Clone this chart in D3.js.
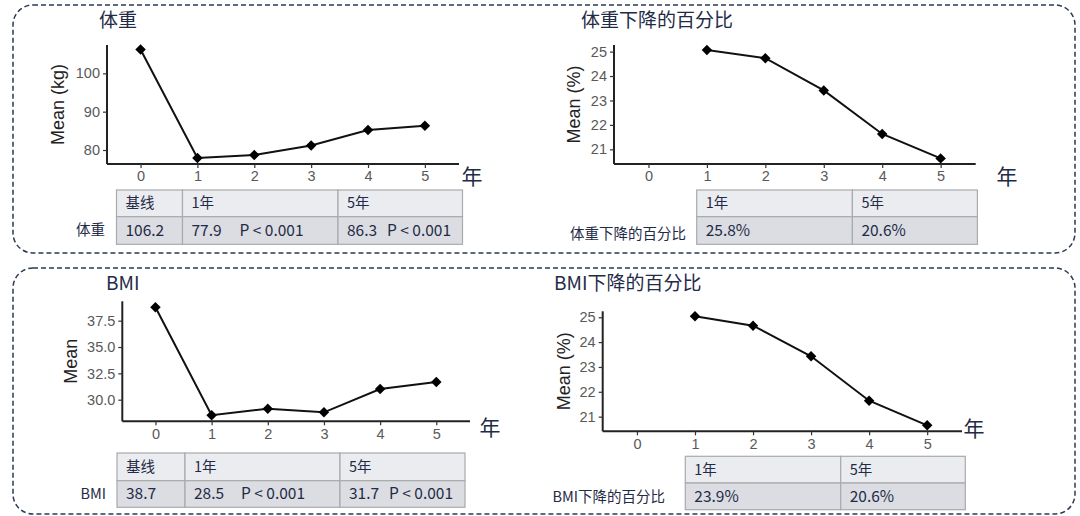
<!DOCTYPE html>
<html>
<head>
<meta charset="utf-8">
<script src="https://cdn.jsdelivr.net/npm/d3@7"></script>
<style>
  body { margin: 0; background: #fff; }
  svg { display: block; }
  .tick text { font-family: 'Liberation Sans', Arial, sans-serif; font-size: 14.5px; fill: #595959; }
  .cjk { font-family: 'Noto Sans CJK SC', sans-serif; }
</style>
</head>
<body>
<div id="chart"></div>
<script>
// data
const years = [0, 1, 2, 3, 4, 5];
const pctYears = [1, 2, 3, 4, 5];
const weightMean = [106.2, 77.9, 78.7, 81.2, 85.2, 86.3];
const weightDrop = [25.07, 24.73, 23.41, 21.63, 20.63];
const bmiMean = [38.77, 28.52, 29.15, 28.8, 31.02, 31.68];
const bmiDrop = [25.04, 24.66, 23.43, 21.64, 20.65];

const weightTicks = [80, 90, 100];
const dropTicks = [21, 22, 23, 24, 25];
const bmiTicks = [30, 32.5, 35, 37.5];

const meanHeaders = ['基线', '1年', '5年'];
const dropHeaders = ['1年', '5年'];
const weightCells = [['106.2'], ['77.9', 'P < 0.001'], ['86.3', 'P < 0.001']];
const weightDropCells = [['25.8%'], ['20.6%']];
const bmiCells = [['38.7'], ['28.5', 'P < 0.001'], ['31.7', 'P < 0.001']];
const bmiDropCells = [['23.9%'], ['20.6%']];

const W = 1080, H = 516;
const ink = '#1f2b47';

const svg = d3.select('#chart').append('svg')
  .attr('width', W).attr('height', H);

// dashed frames
const frames = [
  { x: 13, y: 5, w: 1062, h: 248 },
  { x: 13, y: 268, w: 1062, h: 246 }
];
svg.selectAll('.frame').data(frames).enter().append('rect')
  .attr('class', 'frame')
  .attr('x', d => d.x).attr('y', d => d.y)
  .attr('width', d => d.w).attr('height', d => d.h)
  .attr('rx', 20).attr('ry', 20)
  .attr('fill', 'none')
  .attr('stroke', '#2c3a55')
  .attr('stroke-width', 1.5)
  .attr('stroke-dasharray', '5,3');

const drawPanel = (p) => {
  const x = d3.scaleLinear().domain([-0.59, 5.6]).range([p.left, p.right]);
  const y = d3.scaleLinear().domain(p.yDomain).range([p.bottom, p.top]);

  const g = svg.append('g');

  // title
  g.append('text')
    .attr('class', 'cjk')
    .attr('x', p.titleX).attr('y', p.titleY)
    .attr('dy', '0.35em')
    .style('font-size', '19px')
    .style('fill', ink)
    .text(p.title);

  // axes
  const xAxis = d3.axisBottom(x).tickValues(years).tickSize(4).tickPadding(3)
    .tickFormat(d3.format('d'));
  const yAxis = d3.axisLeft(y).tickValues(p.yTicks).tickSize(4).tickPadding(3)
    .tickFormat(p.yFormat);

  const gx = g.append('g')
    .attr('transform', `translate(0,${p.bottom})`)
    .call(xAxis);
  const gy = g.append('g')
    .attr('transform', `translate(${p.left},0)`)
    .call(yAxis);

  [gx, gy].forEach(a => {
    a.select('.domain').attr('stroke', '#222').attr('stroke-width', 2);
    a.selectAll('.tick line').attr('stroke', '#333').attr('stroke-width', 1.2);
  });
  gx.select('.domain').attr('d', `M${p.left},0H${p.right}`);
  gy.select('.domain').attr('d', `M0,${p.bottom}V${p.top}`);

  // y label
  g.append('text')
    .attr('transform', `translate(${p.yLabelX},${(p.top + p.bottom) / 2}) rotate(-90)`)
    .attr('text-anchor', 'middle')
    .attr('dy', '0.35em')
    .style('font-family', "'Liberation Sans', Arial, sans-serif")
    .style('font-size', '18px')
    .style('fill', '#222')
    .text(p.yLabel);

  // 年
  g.append('text')
    .attr('class', 'cjk')
    .attr('x', p.yearX).attr('y', p.yearY)
    .attr('text-anchor', 'middle')
    .attr('dy', '0.35em')
    .style('font-size', '21px')
    .style('fill', ink)
    .text('年');

  // line + markers
  const pts = p.xs.map((v, i) => [x(v), y(p.values[i])]);
  g.append('path')
    .attr('d', d3.line()(pts))
    .attr('fill', 'none')
    .attr('stroke', '#111')
    .attr('stroke-width', 2);

  g.selectAll('.pt').data(pts).enter().append('path')
    .attr('class', 'pt')
    .attr('transform', d => `translate(${d[0]},${d[1]})`)
    .attr('d', d3.symbol(d3.symbolDiamond2, 70)())
    .attr('fill', '#000');

  // table
  const cols = p.cols;
  const rows = p.rows;
  p.headers.forEach((h, i) => {
    g.append('rect')
      .attr('x', cols[i]).attr('y', rows[0])
      .attr('width', cols[i + 1] - cols[i]).attr('height', rows[1] - rows[0])
      .attr('fill', '#ebecef').attr('stroke', '#a9aaad').attr('stroke-width', 1.2);
    g.append('rect')
      .attr('x', cols[i]).attr('y', rows[1])
      .attr('width', cols[i + 1] - cols[i]).attr('height', rows[2] - rows[1])
      .attr('fill', '#dcdde2').attr('stroke', '#a9aaad').attr('stroke-width', 1.2);

    g.append('text')
      .attr('class', 'cjk')
      .attr('x', cols[i] + 9).attr('y', (rows[0] + rows[1]) / 2)
      .attr('dy', '0.35em')
      .style('font-size', '14.5px')
      .style('fill', ink)
      .text(h);

    p.cells[i].forEach((t, j) => {
      g.append('text')
        .attr('class', 'cjk')
        .attr('x', cols[i] + (j === 0 ? 9 : p.pOffset[i]))
        .attr('y', (rows[1] + rows[2]) / 2)
        .attr('dy', '0.35em')
        .style('font-size', '15.5px')
        .style('fill', ink)
        .text(t);
    });
  });

  g.append('text')
    .attr('class', 'cjk')
    .attr('x', p.rowLabelX).attr('y', p.rowLabelY)
    .attr('text-anchor', 'end')
    .attr('dy', '0.35em')
    .style('font-size', '14.5px')
    .style('fill', ink)
    .text(p.rowLabel);
};

drawPanel({
  title: '体重', titleX: 99, titleY: 20,
  left: 107, right: 459, top: 45, bottom: 164,
  yDomain: [76.35, 107.39], yTicks: weightTicks, yFormat: d3.format('d'),
  yLabel: 'Mean (kg)', yLabelX: 58,
  yearX: 472, yearY: 177,
  xs: years, values: weightMean,
  headers: meanHeaders, cells: weightCells, pOffset: [0, 57, 49],
  cols: [116.5, 182.5, 338, 462.5], rows: [190, 216.7, 244.3],
  rowLabel: '体重', rowLabelX: 105, rowLabelY: 230
});

drawPanel({
  title: '体重下降的百分比', titleX: 581, titleY: 20,
  left: 614, right: 975.7, top: 45, bottom: 164,
  yDomain: [20.40, 25.27], yTicks: dropTicks, yFormat: d3.format('d'),
  yLabel: 'Mean (%)', yLabelX: 574,
  yearX: 1007, yearY: 177,
  xs: pctYears, values: weightDrop,
  headers: dropHeaders, cells: weightDropCells, pOffset: [0, 0],
  cols: [696.7, 852.4, 977.4], rows: [190, 216.7, 244.3],
  rowLabel: '体重下降的百分比', rowLabelX: 686, rowLabelY: 234
});

drawPanel({
  title: 'BMI', titleX: 106, titleY: 283,
  left: 122.3, right: 470, top: 301.3, bottom: 421.3,
  yDomain: [27.95, 39.34], yTicks: bmiTicks, yFormat: d3.format('.1f'),
  yLabel: 'Mean', yLabelX: 70.6,
  yearX: 490, yearY: 428,
  xs: years, values: bmiMean,
  headers: meanHeaders, cells: bmiCells, pOffset: [0, 56, 49],
  cols: [117, 185, 340, 465], rows: [453, 480.7, 507.3],
  rowLabel: 'BMI', rowLabelX: 106, rowLabelY: 494
});

drawPanel({
  title: 'BMI下降的百分比', titleX: 554, titleY: 283,
  left: 602.7, right: 962, top: 311.3, bottom: 431.3,
  yDomain: [20.41, 25.24], yTicks: dropTicks, yFormat: d3.format('d'),
  yLabel: 'Mean (%)', yLabelX: 564,
  yearX: 974, yearY: 429,
  xs: pctYears, values: bmiDrop,
  headers: dropHeaders, cells: bmiDropCells, pOffset: [0, 0],
  cols: [685.3, 840.7, 965.3], rows: [456.3, 483, 509.7],
  rowLabel: 'BMI下降的百分比', rowLabelX: 665, rowLabelY: 497
});
</script>
</body>
</html>
